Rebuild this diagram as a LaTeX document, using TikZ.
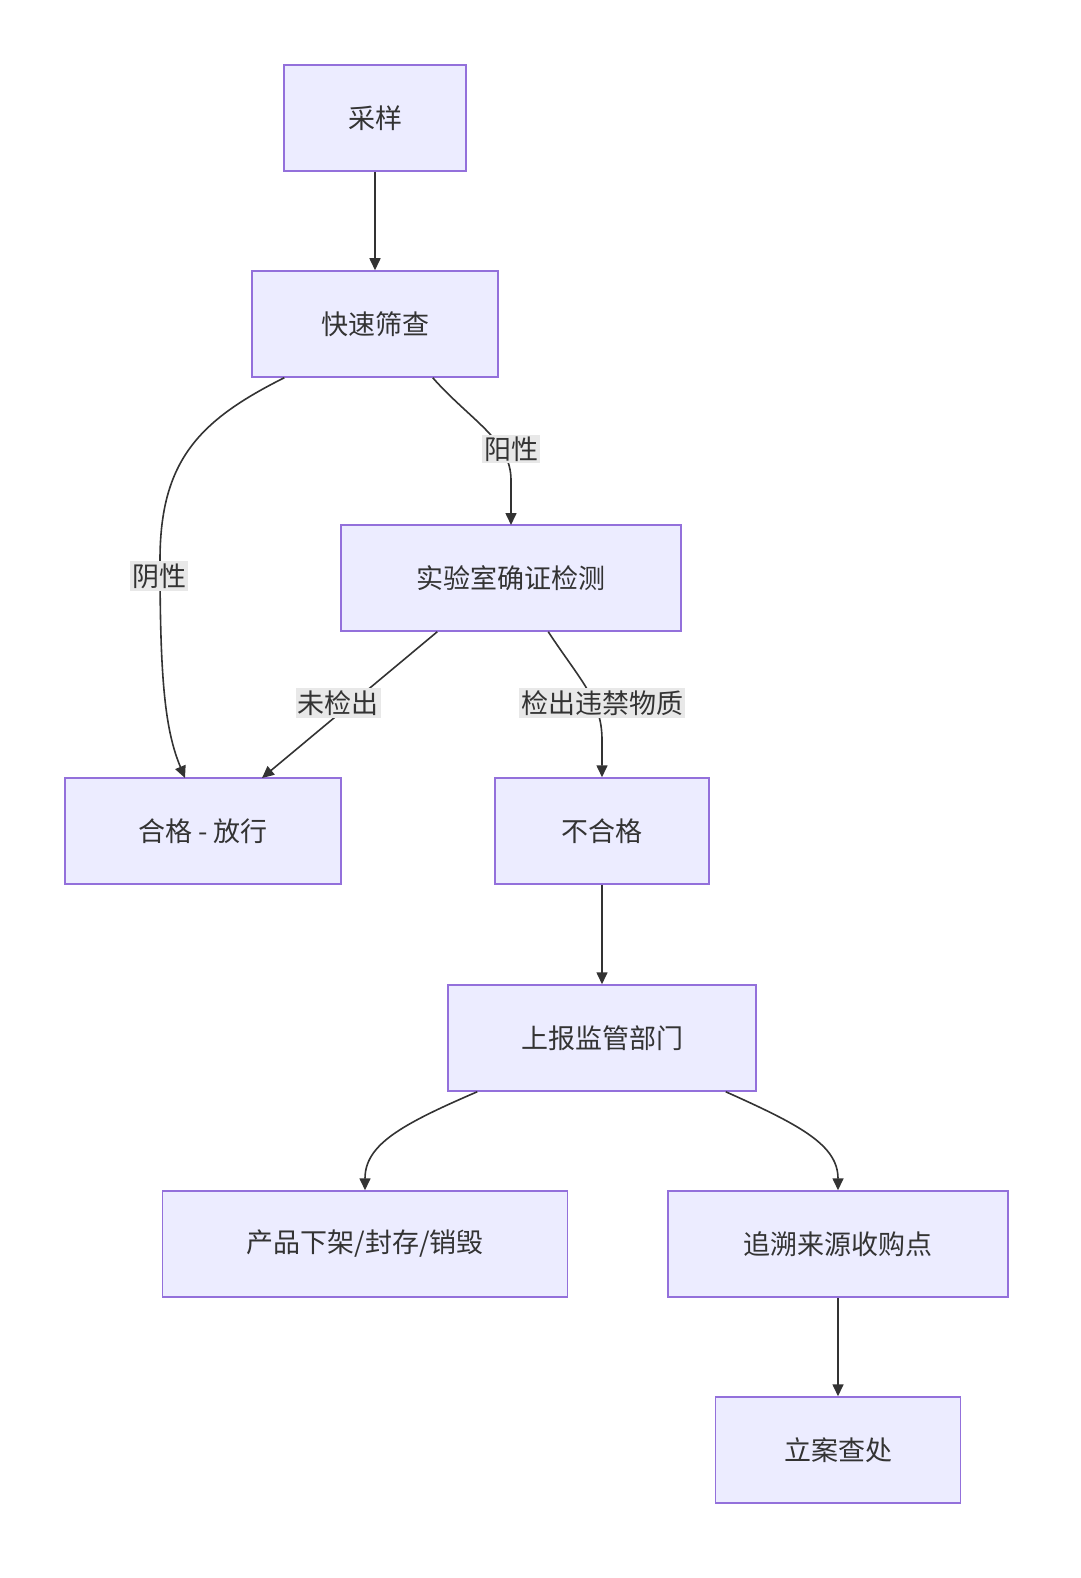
\documentclass[tikz,border=0pt]{standalone}
\usepackage{fontspec}
\setmainfont{Noto Sans CJK SC}
\usetikzlibrary{arrows.meta}
\definecolor{nfill}{HTML}{ECECFF}
\definecolor{nline}{HTML}{9370DB}
\definecolor{ink}{HTML}{333333}
\definecolor{lbg}{HTML}{E8E8E8}
\begin{document}
\begin{tikzpicture}[x=1pt,y=-1pt,
  box/.style={draw=nline,fill=nfill,line width=1.5pt,text=ink,font=\fontsize{27}{32}\selectfont,inner sep=0pt,anchor=center},
  lab/.style={fill=lbg,text=ink,font=\fontsize{27}{32}\selectfont,inner sep=2pt},
  arr/.style={draw=ink,line width=1.6pt,-{Triangle[length=12pt,width=11pt]}}]
\useasboundingbox (0,0) rectangle (1080,1578);
\node[box,minimum width=182pt,minimum height=106pt] (a) at (375,118) {采样};
\node[box,minimum width=246pt,minimum height=106pt] (b) at (375,324) {快速筛查};
\node[box,minimum width=340pt,minimum height=106pt] (c) at (511,578) {实验室确证检测};
\node[box,minimum width=276pt,minimum height=106pt] (d) at (203,831) {合格 - 放行};
\node[box,minimum width=214pt,minimum height=106pt] (e) at (602,831) {不合格};
\node[box,minimum width=308pt,minimum height=106pt] (f) at (602,1038) {上报监管部门};
\node[box,minimum width=405pt,minimum height=106pt] (g) at (365,1244) {产品下架/封存/销毁};
\node[box,minimum width=340pt,minimum height=106pt] (h) at (838,1244) {追溯来源收购点};
\node[box,minimum width=245pt,minimum height=106pt] (i) at (838,1450) {立案查处};
\draw[arr] (a) -- (b);
\draw[arr] (b.south west)++(33,0) .. controls (200,420) and (160,460) .. (160,560) .. controls (160,680) and (165,730) .. (185,778) coordinate (d1);
\node[lab] at (159,576) {阴性};
\draw[arr] (b.south east)++(-66,0) .. controls (470,420) and (511,440) .. (511,480) -- (511,525);
\node[lab] at (511,449) {阳性};
\draw[arr] (c.south west)++(97,0) -- (262,778);
\node[lab] at (338,703) {未检出};
\draw[arr] (c.south west)++(208,0) .. controls (580,680) and (602,700) .. (602,740) -- (e.north);
\node[lab] at (602,703) {检出违禁物质};
\draw[arr] (e) -- (f);
\draw[arr] (f.south west)++(30,0) .. controls (400,1125) and (365,1145) .. (g.north);
\draw[arr] (f.south east)++(-31,0) .. controls (800,1125) and (838,1145) .. (h.north);
\draw[arr] (h) -- (i);
\end{tikzpicture}
\end{document}
